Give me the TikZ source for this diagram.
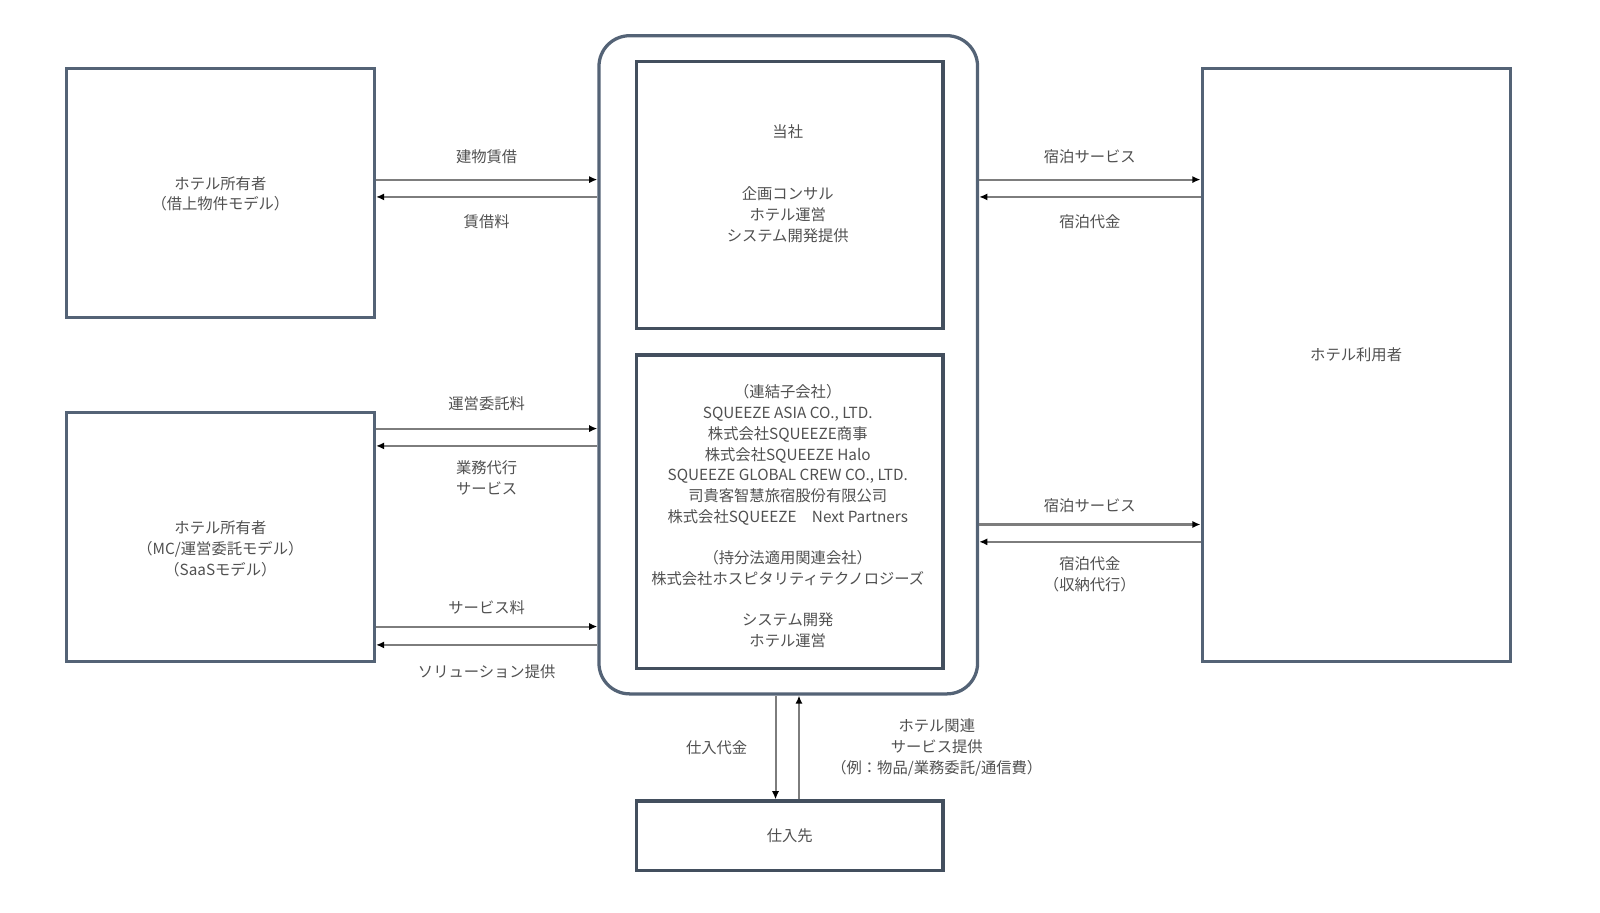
\documentclass[tikz,border=0pt]{standalone}
\usepackage{fontspec}
\setmainfont{Noto Sans CJK JP}
\usetikzlibrary{arrows.meta, positioning}
\definecolor{boxline}{RGB}{84,99,118}
\definecolor{flowline}{RGB}{125,125,125}
\definecolor{txtgray}{RGB}{80,80,80}

\begin{document}
\begin{tikzpicture}[x=0.5pt, y=-0.5pt,
        font=\fontsize{7.5}{10.15}\selectfont, text=txtgray,
        party/.style={draw=boxline, line width=1.5pt, minimum width=151pt, inner sep=0pt},
        inner/.style={draw=boxline!80!black, line width=1.6pt, minimum width=150pt, inner sep=0pt},
        flow/.style={draw=flowline, line width=1pt, -{Latex[length=4pt, width=3.5pt, color=black]}}]

        \useasboundingbox (0,0) rectangle (1568,894);

        % Nodes
        \node[party, minimum height=122pt] (ownerA) at (216,189) {};
        \node[party, minimum height=122pt] (ownerB) at (216,526) {};
        \node[party, minimum height=290.5pt] (guest) at (1329,357.5) {};
        \node[draw=boxline, line width=1.6pt, rounded corners=15pt,
              minimum width=185.5pt, minimum height=322.5pt] (hub) at (772.5,357.5) {};
        \node[inner, minimum height=131pt] (self) at (774,191) {};
        \node[inner, minimum height=153.5pt] (group) at (774,501.5) {};
        \node[inner, minimum height=34pt] (supplier) at (774,819) {仕入先};

        % Texts
        \node[align=center] (ownerAtxt) at (216,190) {ホテル所有者\\（借上物件モデル）};
        \node[align=center] (ownerBtxt) at (216,538) {ホテル所有者\\（MC/運営委託モデル）\\（SaaSモデル）};
        \node (guestTxt) at (1329,348) {ホテル利用者};
        \node[align=center] (selfTxt) at (772,180)
            {当社\\\mbox{}\\\mbox{}\\企画コンサル\\ホテル運営\\システム開発提供};
        \node[align=center] (groupTxt) at (772,506)
            {（連結子会社）\\SQUEEZE ASIA CO., LTD.\\株式会社SQUEEZE商事\\株式会社SQUEEZE Halo\\
             SQUEEZE GLOBAL CREW CO., LTD.\\司貴客智慧旅宿股份有限公司\\株式会社SQUEEZE\quad Next Partners\\
             \mbox{}\\（持分法適用関連会社）\\株式会社ホスピタリティテクノロジーズ\\
             \mbox{}\\システム開発\\ホテル運営};

        % Transitions
        \draw[flow] (ownerA.east |- 0,176) -- node[above=4pt] {建物賃借} (hub.west |- 0,176);
        \draw[flow] (hub.west |- 0,193) -- node[below=5pt] {賃借料} (ownerA.east |- 0,193);
        \draw[flow] (ownerB.east |- 0,420) -- node[above=5pt] {運営委託料} (hub.west |- 0,420);
        \draw[flow] (hub.west |- 0,437) -- node[below=3.5pt, align=center] {業務代行\\サービス} (ownerB.east |- 0,437);
        \draw[flow] (ownerB.east |- 0,614) -- node[above=2pt] {サービス料} (hub.west |- 0,614);
        \draw[flow] (hub.west |- 0,632) -- node[below=6pt] {ソリューション提供} (ownerB.east |- 0,632);
        \draw[flow] (hub.east |- 0,176) -- node[above=4pt] {宿泊サービス} (guest.west |- 0,176);
        \draw[flow] (guest.west |- 0,193) -- node[below=5pt] {宿泊代金} (hub.east |- 0,193);
        \draw[flow] (hub.east |- 0,514) -- node[above=2pt] {宿泊サービス} (guest.west |- 0,514);
        \draw[flow] (guest.west |- 0,531) -- node[below=3.5pt, align=center] {宿泊代金\\（収納代行）} (hub.east |- 0,531);
        \draw[flow] (hub.south -| 760,0) -- node[left=10pt] {仕入代金} (supplier.north -| 760,0);
        \draw[flow] (supplier.north -| 783,0) -- node[right=12pt, align=center]
            {ホテル関連\\サービス提供\\（例：物品/業務委託/通信費）} (hub.south -| 783,0);
    \end{tikzpicture}
\end{document}
